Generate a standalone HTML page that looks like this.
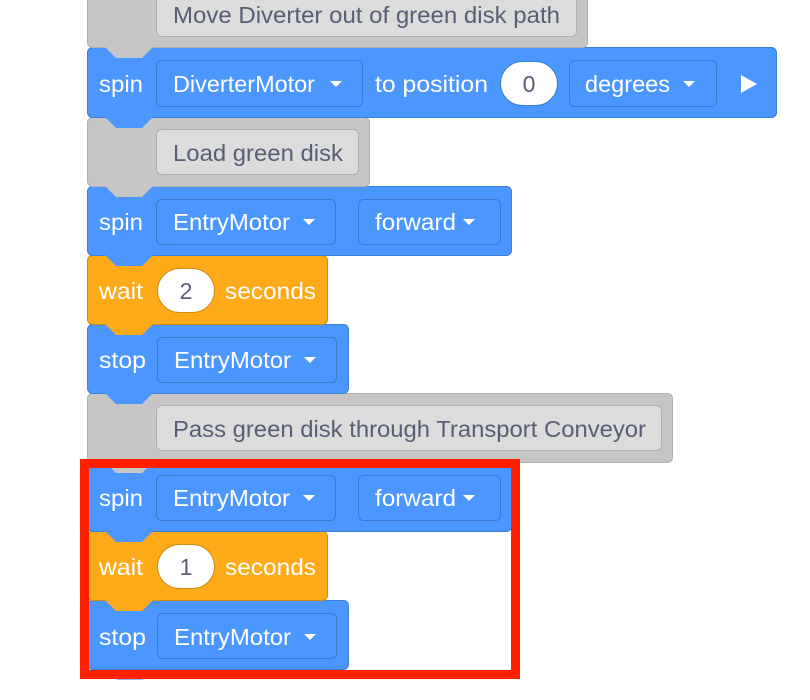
<!DOCTYPE html>
<html><head><meta charset="utf-8"><style>
html,body{margin:0;padding:0;background:#fff;width:810px;height:700px;overflow:hidden}
svg{display:block}
text{font-family:"Liberation Sans",Arial,sans-serif;font-size:23px}
.w{fill:#fff}.d{fill:#575e75}
</style></head><body>
<svg width="810" height="700" viewBox="0 0 810 700">
<defs>
<g id="tri"><path d="M0 0 L12 0 L6 6 Z" fill="#fff"/></g>
</defs>
<path d="M107 668 L117 679 L143 679 L153 668 Z" fill="#4c97ff" stroke="#3d7fd9"/>
<!-- stop 2 -->
<rect x="87.5" y="600.5" width="261" height="69" rx="5" fill="#4c97ff" stroke="#3d7fd9"/>
<rect x="157.5" y="613.5" width="179" height="45" rx="5" fill="#4c97ff" stroke="#3b7ad0"/>
<text x="99" y="645" class="w" textLength="47" lengthAdjust="spacingAndGlyphs">stop</text><text x="174" y="645" class="w" textLength="117" lengthAdjust="spacingAndGlyphs">EntryMotor</text><use href="#tri" x="304" y="634"/>
<!-- wait 1 -->
<rect x="87.5" y="531.5" width="240" height="69" rx="5" fill="#ffab19" stroke="#cf8b17"/>
<path d="M105 600 L116 611 L142 611 L153 600 Z" fill="#ffab19"/>
<rect x="157.5" y="544.5" width="57" height="44" rx="22" fill="#fff" stroke="#cf8b17"/>
<text x="186" y="575" class="d" text-anchor="middle">1</text>
<text x="99" y="575" class="w" textLength="44" lengthAdjust="spacingAndGlyphs">wait</text><text x="225" y="575" class="w" textLength="91" lengthAdjust="spacingAndGlyphs">seconds</text>
<!-- spin 2 -->
<rect x="87.5" y="462.5" width="424" height="69" rx="5" fill="#4c97ff" stroke="#3d7fd9"/>
<path d="M105 531 L116 542 L142 542 L153 531 Z" fill="#4c97ff"/>
<rect x="156.5" y="475.5" width="179" height="45" rx="5" fill="#4c97ff" stroke="#3b7ad0"/>
<rect x="358.5" y="475.5" width="142" height="45" rx="5" fill="#4c97ff" stroke="#3b7ad0"/>
<text x="99" y="506" class="w" textLength="44" lengthAdjust="spacingAndGlyphs">spin</text><text x="173" y="506" class="w" textLength="117" lengthAdjust="spacingAndGlyphs">EntryMotor</text><use href="#tri" x="303" y="495"/>
<text x="375" y="506" class="w" textLength="81" lengthAdjust="spacingAndGlyphs">forward</text><use href="#tri" x="463" y="495"/>
<!-- gray pass -->
<rect x="87.5" y="393.5" width="585" height="69" rx="5" fill="#c6c6c6" stroke="#b0b0b0"/>
<path d="M105 462 L116 473 L142 473 L153 462 Z" fill="#c6c6c6"/>
<rect x="156.5" y="405.5" width="505" height="45" rx="5" fill="#dcdcdc" stroke="#b0b0b0"/>
<text x="173" y="437" class="d" textLength="473" lengthAdjust="spacingAndGlyphs">Pass green disk through Transport Conveyor</text>
<!-- stop 1 -->
<rect x="87.5" y="324.5" width="261" height="69" rx="5" fill="#4c97ff" stroke="#3d7fd9"/>
<path d="M105 393 L116 404 L142 404 L153 393 Z" fill="#4c97ff"/>
<rect x="157.5" y="337.5" width="179" height="45" rx="5" fill="#4c97ff" stroke="#3b7ad0"/>
<text x="99" y="368" class="w" textLength="47" lengthAdjust="spacingAndGlyphs">stop</text><text x="174" y="368" class="w" textLength="117" lengthAdjust="spacingAndGlyphs">EntryMotor</text><use href="#tri" x="304" y="357"/>
<!-- wait 2 -->
<rect x="87.5" y="255.5" width="240" height="69" rx="5" fill="#ffab19" stroke="#cf8b17"/>
<path d="M105 324 L116 335 L142 335 L153 324 Z" fill="#ffab19"/>
<rect x="157.5" y="268.5" width="57" height="44" rx="22" fill="#fff" stroke="#cf8b17"/>
<text x="186" y="299" class="d" text-anchor="middle">2</text>
<text x="99" y="299" class="w" textLength="44" lengthAdjust="spacingAndGlyphs">wait</text><text x="225" y="299" class="w" textLength="91" lengthAdjust="spacingAndGlyphs">seconds</text>
<!-- spin 1 -->
<rect x="87.5" y="186.5" width="424" height="69" rx="5" fill="#4c97ff" stroke="#3d7fd9"/>
<path d="M105 255 L116 266 L142 266 L153 255 Z" fill="#4c97ff"/>
<rect x="156.5" y="199.5" width="179" height="45" rx="5" fill="#4c97ff" stroke="#3b7ad0"/>
<rect x="358.5" y="199.5" width="142" height="45" rx="5" fill="#4c97ff" stroke="#3b7ad0"/>
<text x="99" y="230" class="w" textLength="44" lengthAdjust="spacingAndGlyphs">spin</text><text x="173" y="230" class="w" textLength="117" lengthAdjust="spacingAndGlyphs">EntryMotor</text><use href="#tri" x="303" y="219"/>
<text x="375" y="230" class="w" textLength="81" lengthAdjust="spacingAndGlyphs">forward</text><use href="#tri" x="463" y="219"/>
<!-- gray load -->
<rect x="87.5" y="117.5" width="282" height="69" rx="5" fill="#c6c6c6" stroke="#b0b0b0"/>
<path d="M105 186 L116 197 L142 197 L153 186 Z" fill="#c6c6c6"/>
<rect x="156.5" y="129.5" width="202" height="45" rx="5" fill="#dcdcdc" stroke="#b0b0b0"/>
<text x="173" y="161" class="d" textLength="170" lengthAdjust="spacingAndGlyphs">Load green disk</text>
<!-- spin diverter -->
<rect x="87.5" y="47.5" width="689" height="70" rx="5" fill="#4c97ff" stroke="#3d7fd9"/>
<path d="M105 117 L116 128 L142 128 L153 117 Z" fill="#4c97ff"/>
<rect x="156.5" y="60.5" width="206" height="46" rx="5" fill="#4c97ff" stroke="#3b7ad0"/>
<text x="99" y="92" class="w" textLength="44" lengthAdjust="spacingAndGlyphs">spin</text><text x="173" y="92" class="w" textLength="142" lengthAdjust="spacingAndGlyphs">DiverterMotor</text><use href="#tri" x="330" y="81"/>
<text x="375" y="92" class="w" textLength="113" lengthAdjust="spacingAndGlyphs">to position</text>
<rect x="500.5" y="61.5" width="57" height="44" rx="22" fill="#fff" stroke="#3b7ad0"/>
<text x="529" y="92" class="d" text-anchor="middle">0</text>
<rect x="569.5" y="60.5" width="147" height="46" rx="5" fill="#4c97ff" stroke="#3b7ad0"/>
<text x="585" y="92" class="w" textLength="85" lengthAdjust="spacingAndGlyphs">degrees</text><use href="#tri" x="683" y="81"/>
<path d="M741 75 L757 84 L741 93 Z" fill="#fff"/>
<!-- gray move -->
<rect x="87.5" y="-20.5" width="500" height="68" rx="5" fill="#c6c6c6" stroke="#b0b0b0"/>
<path d="M105 47 L116 58 L142 58 L153 47 Z" fill="#c6c6c6"/>
<rect x="156.5" y="-9.5" width="420" height="46" rx="5" fill="#dcdcdc" stroke="#b0b0b0"/>
<text x="173" y="23" class="d" textLength="387" lengthAdjust="spacingAndGlyphs">Move Diverter out of green disk path</text>
<!-- red box -->
<rect x="84.5" y="463.5" width="431" height="211" fill="none" stroke="#ff2000" stroke-width="9"/>
</svg>
</body></html>
